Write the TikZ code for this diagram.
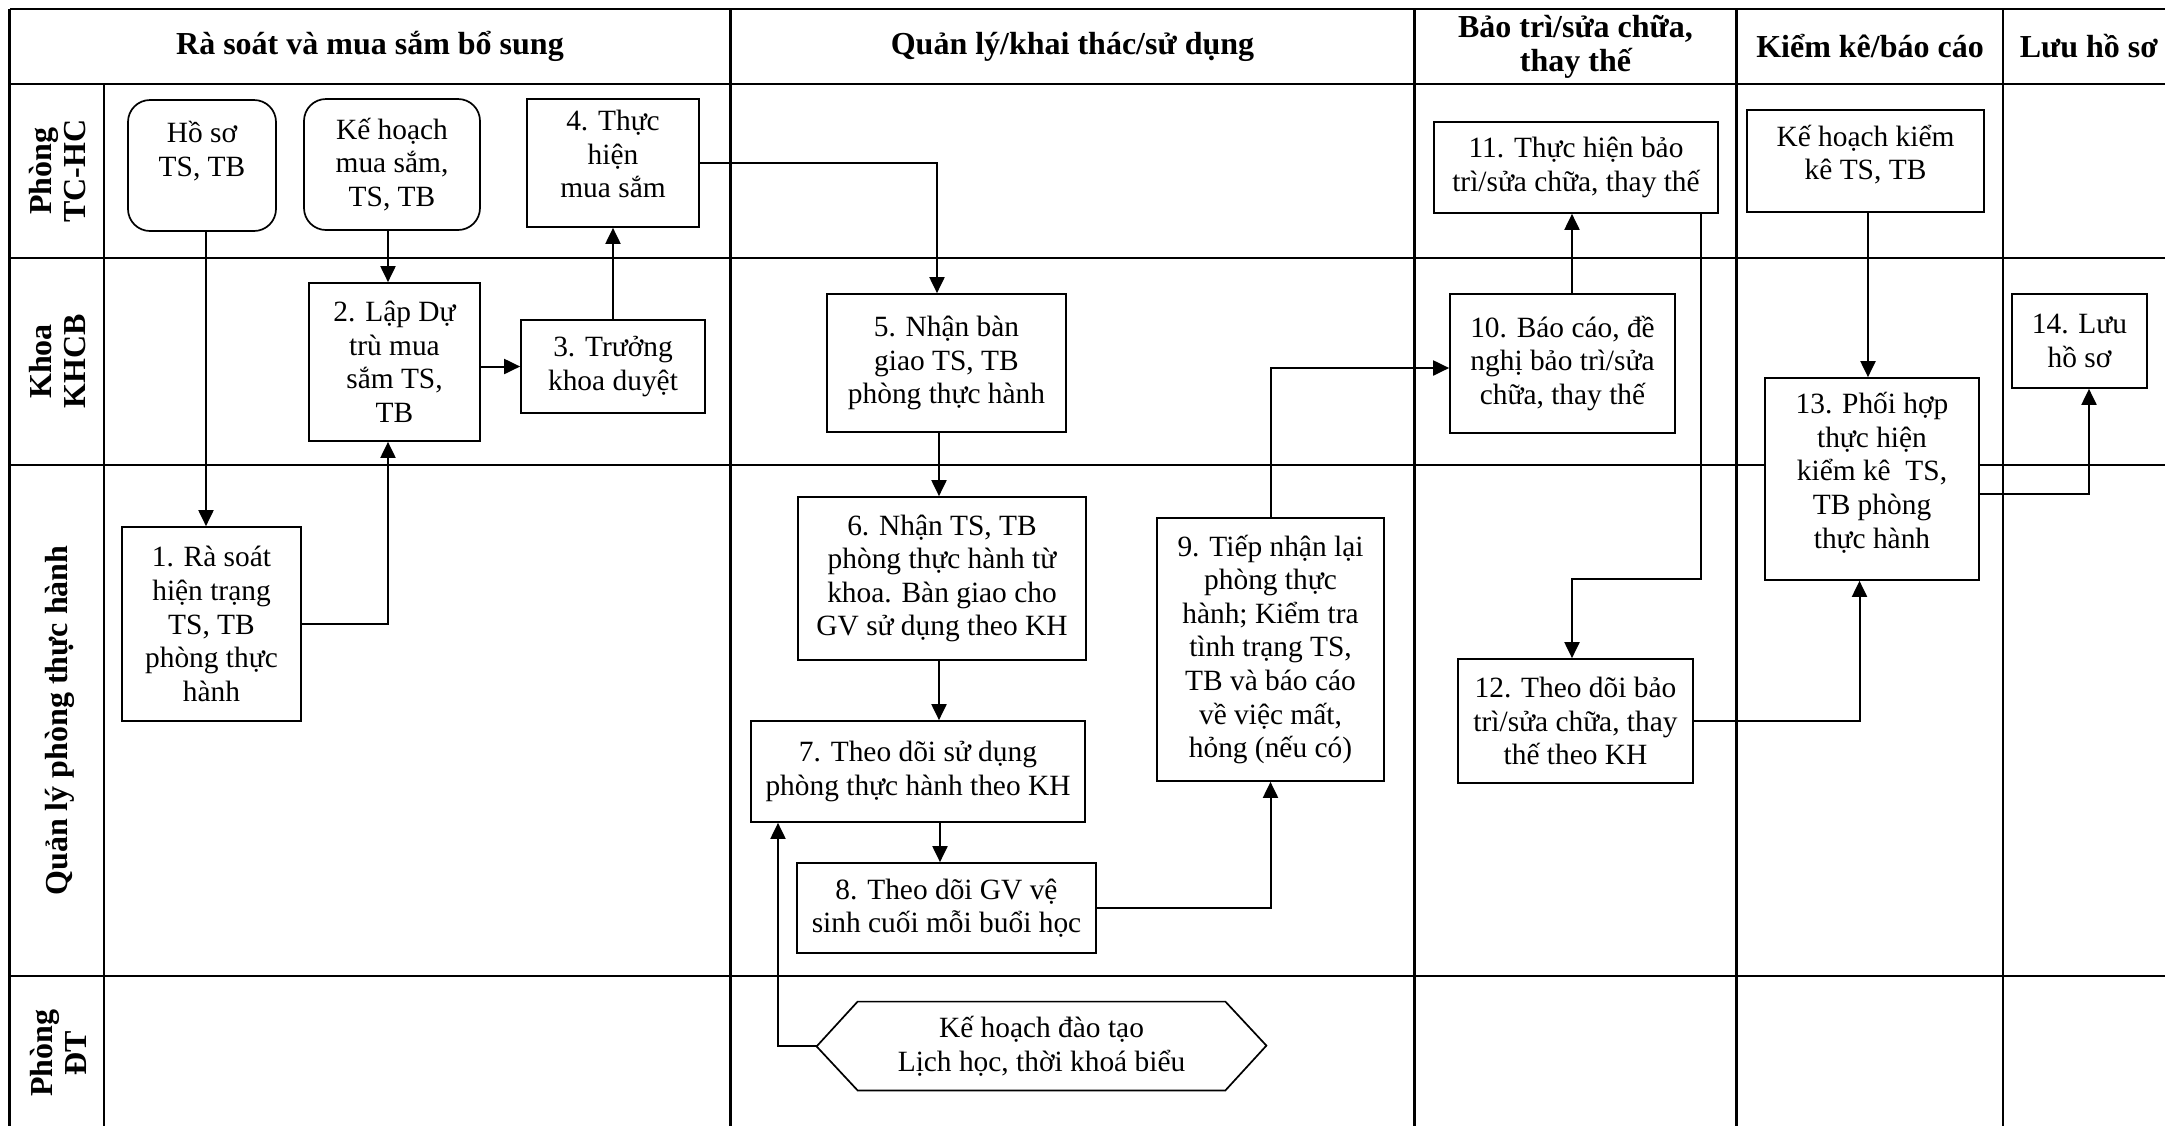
\documentclass[tikz,border=0pt]{standalone}
\usepackage{fontspec}
\setmainfont{Liberation Serif}
\usetikzlibrary{arrows.meta}
\tikzset{
  gridline/.style={line width=1.35pt},
  box/.style={draw, fill=white, line width=0.85pt, align=center, inner sep=2pt,
    font=\fontsize{14.7}{16.8}\selectfont},
  rbox/.style={box, rounded corners=11pt},
  arr/.style={line width=1pt, -{Triangle[length=8pt,width=7.5pt]}},
  head/.style={font=\fontsize{16}{17}\selectfont\bfseries, align=center, inner sep=0pt},
  lane/.style={head, rotate=90},
}
\begin{document}
\begin{tikzpicture}[x=0.5pt, y=-0.5pt]
\useasboundingbox (0,0) rectangle (2165,1126);
% grid
\draw[gridline] (9.5,9) -- (2165,9);
\draw[gridline] (9.5,84) -- (2165,84);
\foreach \yy in {258,465,976} \draw[gridline] (9.5,\yy) -- (2165,\yy);
\draw[gridline] (9.5,9) -- (9.5,1126);
\draw[gridline] (104,84) -- (104,1126);
\foreach \xx in {730.5,1414.5,1736.7,2003} \draw[gridline] (\xx,9) -- (\xx,1126);
% headers
\node[head] (h1) at (370,46.5) {Rà soát và mua sắm bổ sung};
\node[head] (h2) at (1072.5,46.5) {Quản lý/khai thác/sử dụng};
\node[head] (h3) at (1575.5,46.5) {Bảo trì/sửa chữa,\\thay thế};
\node[head] (h4) at (1870,46.5) {Kiểm kê/báo cáo};
\node[head] (h5) at (2089,46.5) {Lưu hồ sơ};
% lanes
\node[lane] (l1) at (58,171) {Phòng\\TC-HC};
\node[lane] (l2) at (58,361.5) {Khoa\\KHCB};
\node[lane] (l3) at (60,720.5) {Quản lý phòng thực hành};
\node[lane] (l4) at (58,1053) {Phòng\\ĐT};
% boxes
\node[rbox, minimum width=74pt, minimum height=65.5pt] (HoSo) at (202,165.5) {Hồ sơ\\TS, TB\\\mbox{}};
\node[rbox, minimum width=88pt, minimum height=65.5pt] (KHMS) at (392,164.5) {Kế hoạch\\mua sắm,\\TS, TB};
\node[box, minimum width=86pt, minimum height=64pt] (B4) at (613,163) {4. Thực\\hiện\\mua sắm\\[-7.8pt]\mbox{}};
\node[box, minimum width=85.5pt, minimum height=79pt] (B2) at (394.5,362) {2. Lập Dự\\trù mua\\sắm TS,\\TB};
\node[box, minimum width=92pt, minimum height=46.5pt] (B3) at (613,366.5) {3. Trưởng\\khoa duyệt};
\node[box, minimum width=89.5pt, minimum height=97pt] (B1) at (211.5,624) {1. Rà soát\\hiện trạng\\TS, TB\\phòng thực\\hành};
\node[box, minimum width=119.5pt, minimum height=69pt] (B5) at (946.5,363) {5. Nhận bàn\\giao TS, TB\\phòng thực hành};
\node[box, minimum width=144pt, minimum height=81.5pt] (B6) at (942,578.5) {6. Nhận TS, TB\\phòng thực hành từ\\khoa. Bàn giao cho\\GV sử dụng theo KH};
\node[box, minimum width=167pt, minimum height=50.5pt] (B7) at (918,771.5) {7. Theo dõi sử dụng\\phòng thực hành theo KH};
\node[box, minimum width=149.5pt, minimum height=45pt] (B8) at (946.5,908) {8. Theo dõi GV vệ\\sinh cuối mỗi buổi học};
\node[box, minimum width=113.5pt, minimum height=131.5pt] (B9) at (1270.5,649.5) {9. Tiếp nhận lại\\phòng thực\\hành; Kiểm tra\\tình trạng TS,\\TB và báo cáo\\về việc mất,\\hỏng (nếu có)};
\node[minimum width=183.5pt, minimum height=44pt, align=center, inner sep=2pt, font=\fontsize{14.7}{16.8}\selectfont] (Hex) at (1041.5,1046) {Kế hoạch đào tạo\\Lịch học, thời khoá biểu};
\draw[line width=0.85pt] (Hex.north west) -- (Hex.north east) -- ++(41,44) -- (Hex.south east) -- (Hex.south west) -- ++(-41,-44) -- cycle;
\coordinate (HexTip) at ([xshift=-20.5pt]Hex.west);
\node[box, minimum width=112.5pt, minimum height=69.5pt] (B10) at (1562.5,363.5) {10. Báo cáo, đề\\nghị bảo trì/sửa\\chữa, thay thế};
\node[box, minimum width=142pt, minimum height=45.5pt] (B11) at (1576,167.5) {11. Thực hiện bảo\\trì/sửa chữa, thay thế};
\node[box, minimum width=118.5pt, minimum height=51pt] (KHKK) at (1865.5,161) {Kế hoạch kiểm\\kê TS, TB\\[-8.2pt]\mbox{}};
\node[box, minimum width=117.5pt, minimum height=62pt] (B12) at (1575.5,721) {12. Theo dõi bảo\\trì/sửa chữa, thay\\thế theo KH};
\node[box, minimum width=107pt, minimum height=101pt] (B13) at (1872,479) {13. Phối hợp\\thực hiện\\kiểm kê\ \ TS,\\TB phòng\\thực hành\\[-8pt]\mbox{}};
\node[box, minimum width=67.5pt, minimum height=47pt] (B14) at (2079.5,341) {14. Lưu\\hồ sơ};
% connectors
\draw[arr] ([xshift=2pt]HoSo.south) -- ([xshift=2pt]HoSo.south |- B1.north);
\draw[arr] ([xshift=-2pt]KHMS.south) -- ([xshift=-2pt]KHMS.south |- B2.north);
\draw[arr] (B1.east) -| ([xshift=-3.25pt]B2.south);
\draw[arr] (B3.west -| B2.east) -- (B3.west);
\draw[arr] (B3.north) -- (B4.south);
\draw[arr] (B4.east) -| ([xshift=-4.75pt]B5.north);
\draw[arr] ([xshift=-3.75pt]B5.south) -- ([xshift=-3.75pt]B5.south |- B6.north);
\draw[arr] ([xshift=-1.5pt]B6.south) -- ([xshift=-1.5pt]B6.south |- B7.north);
\draw[arr] ([xshift=11pt]B7.south) -- ([xshift=11pt]B7.south |- B8.north);
\draw[arr] (B8.east) -| (B9.south);
\draw[arr] (B9.north) |- ([yshift=-2.25pt]B10.west);
\draw[arr] (HexTip) -| ([xshift=-70pt]B7.south);
\draw[arr] ([xshift=4.75pt]B10.north) -- ([xshift=4.75pt]B10.north |- B11.south);
\draw[arr] ([xshift=62.5pt]B11.south) -- ++(0,365) -| ([xshift=-1.75pt]B12.north);
\draw[arr] ([xshift=1.25pt]KHKK.south) -- ([xshift=1.25pt]KHKK.south |- B13.north);
\draw[arr] (B12.east) -| ([xshift=-6.25pt]B13.south);
\draw[arr] ([yshift=-7.5pt]B13.east) -| ([xshift=4.75pt]B14.south);
\end{tikzpicture}
\end{document}
